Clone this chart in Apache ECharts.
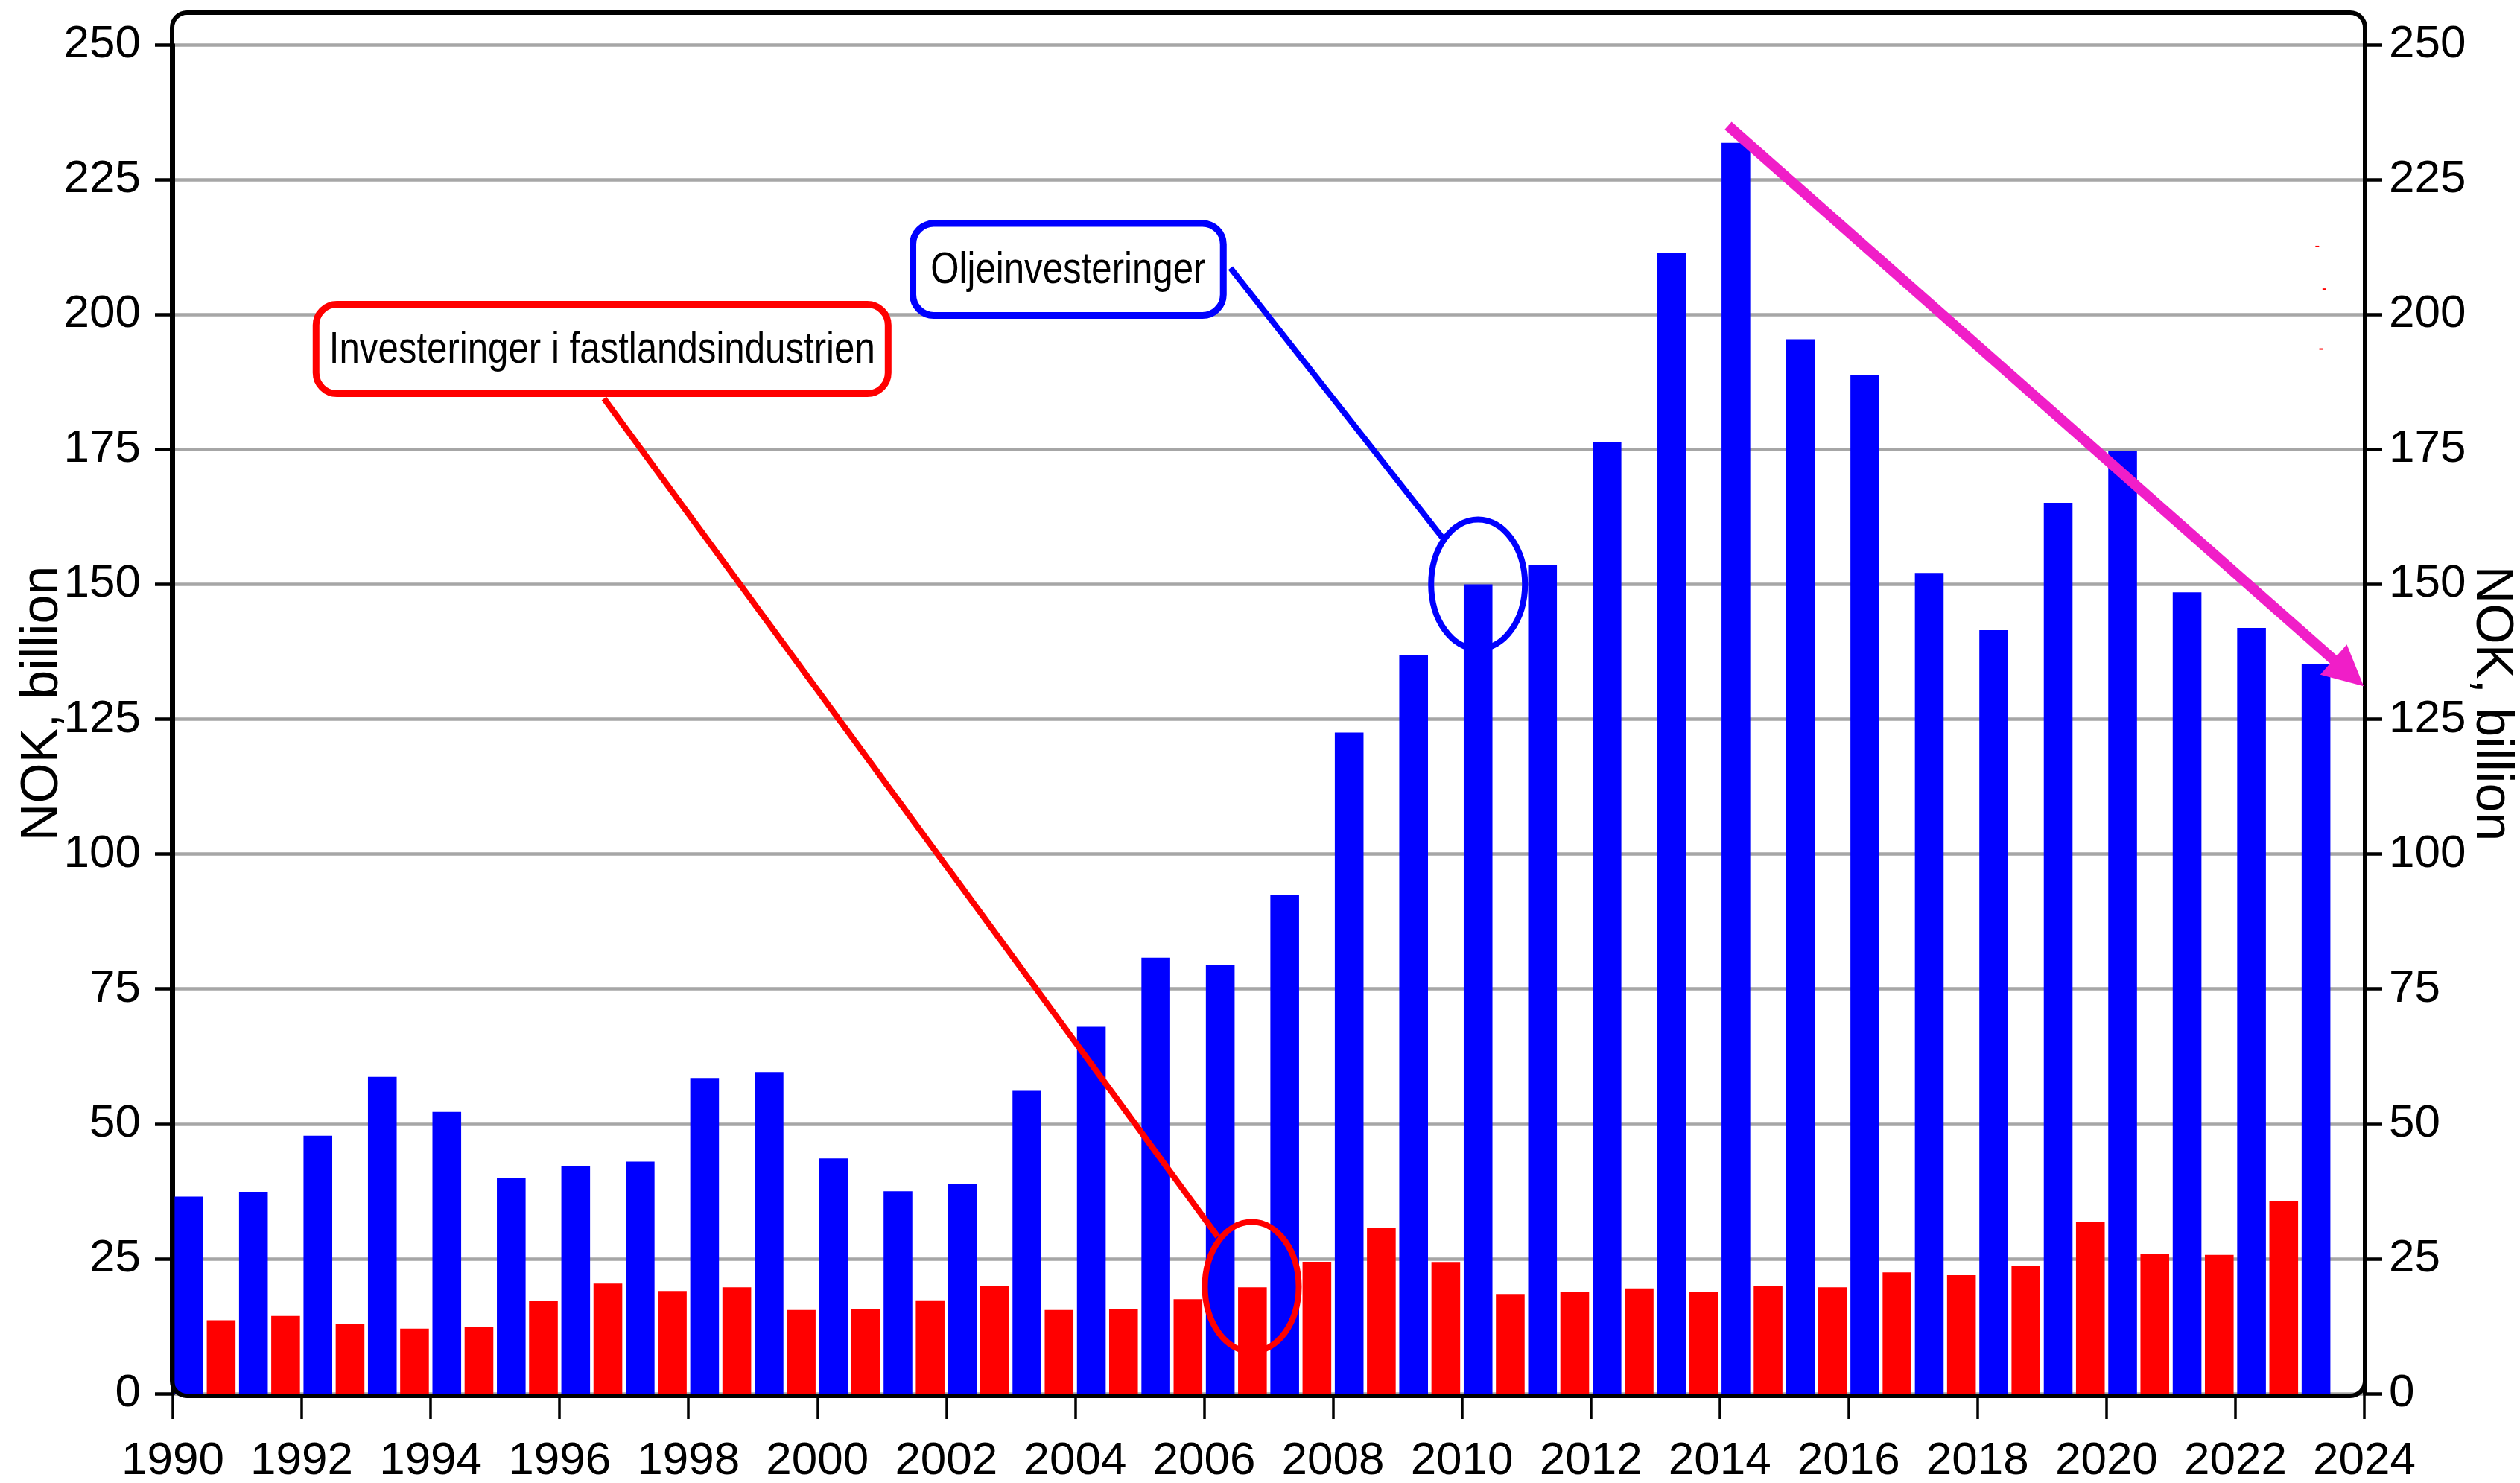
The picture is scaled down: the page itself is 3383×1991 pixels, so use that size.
<!DOCTYPE html>
<html><head><meta charset="utf-8">
<script src="https://cdn.jsdelivr.net/npm/echarts@6/dist/echarts.min.js"></script>
<style>html,body{margin:0;padding:0;background:#fff}#c{width:3383px;height:1991px}</style>
</head><body><div id="c"></div>
<script>
// ---- data ----
const years = [1990,1991,1992,1993,1994,1995,1996,1997,1998,1999,2000,2001,2002,2003,2004,2005,2006,2007,2008,2009,2010,2011,2012,2013,2014,2015,2016,2017,2018,2019,2020,2021,2022,2023];
const oilInvestment = [36.5,37.4,47.8,58.7,52.2,39.9,42.2,43.0,58.5,59.6,43.6,37.5,38.9,56.1,68.0,80.8,79.5,92.5,122.5,136.8,150.0,153.6,176.3,211.5,231.8,195.4,188.8,152.1,141.5,165.1,174.7,148.5,141.9,135.2];
const industryInvestment = [13.6,14.4,12.85,12.05,12.4,17.2,20.4,19.0,19.7,15.5,15.75,17.3,19.9,15.5,15.75,17.5,19.7,24.45,30.8,24.4,18.45,18.8,19.5,18.9,20.0,19.7,22.45,21.95,23.65,31.8,25.8,25.7,35.6,null];
const xRange = [1990, 2024];
const xInterval = 2;
const yRange = [0, 250];
const yInterval = 25;
const axisTitle = 'NOK, billion';
// annotations, in data coordinates [year, NOK bn]
const labelBoxes = [
  {text: 'Investeringer i fastlandsindustrien', color: '#ff0000', from: [1992.17, 202.5], to: [2001.15, 184.7]},
  {text: 'Oljeinvesteringer', color: '#0000ff', from: [2001.43, 217.5], to: [2006.35, 199.2]}
];
const leaderLines = [
  {color: '#ff0000', from: [1996.69, 184.4], to: [2006.21, 29.1]},
  {color: '#0000ff', from: [2006.41, 208.6], to: [2009.70, 158.6]}
];
const rings = [
  {color: '#ff0000', center: [2006.74, 19.8]},
  {color: '#0000ff', center: [2010.25, 150.0]}
];
const trendArrow = {color: '#f01ec8', from: [2014.13, 235.0], to: [2023.99, 131.1]};
const strayMarks = [[2023.27, 212.6], [2023.38, 204.7], [2023.33, 193.6]];

function hasFont(name){
  const c = document.createElement('canvas').getContext('2d');
  const t = 'abcdefghijklmnopqrstuvwxyz0123456789ABCDEFG';
  c.font = '72px monospace'; const w1 = c.measureText(t).width;
  c.font = '72px "' + name + '", monospace'; const w2 = c.measureText(t).width;
  return Math.abs(w1 - w2) > 0.5;
}
const narrow = hasFont('Liberation Sans Narrow') ? 'Liberation Sans Narrow' : (hasFont('Arial Narrow') ? 'Arial Narrow' : null);
const tickFont = narrow || 'Liberation Sans';
const tickSize = narrow ? 68 : 62;
const annFont = narrow || 'Liberation Sans';
const annScale = narrow ? 1 : 0.82;

const chart = echarts.init(document.getElementById('c'), null, {renderer: 'canvas'});
const labelStyle = {color: '#000', fontSize: tickSize, fontFamily: tickFont};
const tickStyle = {show: true, length: 24, lineStyle: {color: '#000', width: 4.5}};
chart.setOption({
  animation: false,
  backgroundColor: '#fff',
  grid: {left: 232, right: 209, top: 60, bottom: 120, containLabel: false, outerBoundsMode: 'none'},
  xAxis: [
    {type: 'category', data: years.map(String), show: false, boundaryGap: true},
    {type: 'value', min: xRange[0], max: xRange[1], interval: xInterval, position: 'bottom',
     axisLine: {show: false}, splitLine: {show: false},
     axisTick: {show: true, length: 34, lineStyle: {color: '#000', width: 3.5}},
     axisLabel: Object.assign({margin: 60, formatter: v => String(v)}, labelStyle)}
  ],
  yAxis: [
    {type: 'value', min: yRange[0], max: yRange[1], interval: yInterval, position: 'left',
     axisLine: {show: true, lineStyle: {color: '#000', width: 5}},
     axisTick: tickStyle,
     axisLabel: Object.assign({margin: 43}, labelStyle),
     splitLine: {show: true, lineStyle: {color: '#a6a6a6', width: 4.5}},
     name: axisTitle, nameLocation: 'middle', nameGap: 139, nameMoveOverlap: false,
     nameTextStyle: {fontSize: 70, fontFamily: 'Liberation Sans', color: '#000', padding: [0, 0, 0, 42]}},
    {type: 'value', min: yRange[0], max: yRange[1], interval: yInterval, position: 'right',
     axisLine: {show: true, lineStyle: {color: '#000', width: 5}},
     axisTick: tickStyle,
     axisLabel: Object.assign({margin: 33}, labelStyle),
     splitLine: {show: false},
     name: axisTitle, nameLocation: 'middle', nameGap: 135, nameRotate: -90, nameMoveOverlap: false,
     nameTextStyle: {fontSize: 70, fontFamily: 'Liberation Sans', color: '#000', padding: [0, 42, 0, 0]}}
  ],
  series: [
    {name: 'Oljeinvesteringer', type: 'bar', xAxisIndex: 0, yAxisIndex: 0, data: oilInvestment,
     itemStyle: {color: '#0000ff'}, barGap: '12%', barCategoryGap: '5.5%'},
    {name: 'Investeringer i fastlandsindustrien', type: 'bar', xAxisIndex: 0, yAxisIndex: 0, data: industryInvestment,
     itemStyle: {color: '#ff0000'}, barGap: '12%', barCategoryGap: '5.5%'}
  ]
});

const px = p => chart.convertToPixel({xAxisIndex: 1, yAxisIndex: 0}, p);
const g = [];
// plot frame (rounded rectangle around the plotting area)
const tl = px([xRange[0], yRange[1]]), br = px([xRange[1], yRange[0]]);
g.push({type: 'rect', z: 50, silent: true,
  shape: {x: tl[0] - 1, y: tl[1] - 43, width: br[0] - tl[0] + 2, height: br[1] - tl[1] + 46, r: 20},
  style: {fill: 'none', stroke: '#000', lineWidth: 6}});
// leader lines
leaderLines.forEach(l => {
  const a = px(l.from), b = px(l.to);
  g.push({type: 'line', z: 60, shape: {x1: a[0], y1: a[1], x2: b[0], y2: b[1]}, style: {stroke: l.color, lineWidth: 8}});
});
// rings
rings.forEach(r => {
  const c = px(r.center);
  g.push({type: 'ellipse', z: 61, shape: {cx: c[0], cy: c[1], rx: 63, ry: 87}, style: {fill: 'none', stroke: r.color, lineWidth: 8}});
});
// label boxes
labelBoxes.forEach(b => {
  const a = px(b.from), c = px(b.to), lw = 9;
  g.push({type: 'rect', z: 70, shape: {x: a[0] + lw/2, y: a[1] + lw/2, width: c[0] - a[0] - lw, height: c[1] - a[1] - lw, r: 28},
    style: {fill: '#fff', stroke: b.color, lineWidth: lw}});
  g.push({type: 'text', z: 71, x: (a[0] + c[0]) / 2, y: (a[1] + c[1]) / 2 + 2, scaleX: annScale,
    style: {text: b.text, fill: '#000', font: 'normal 60px "' + annFont + '"', align: 'center', verticalAlign: 'middle'}});
});
// trend arrow
{
  const a = px(trendArrow.from), b = px(trendArrow.to);
  const dx = b[0] - a[0], dy = b[1] - a[1], L = Math.hypot(dx, dy), ux = dx / L, uy = dy / L;
  const hl = 54, hw = 27;
  const bx = b[0] - ux * hl, by = b[1] - uy * hl;
  g.push({type: 'line', z: 80, shape: {x1: a[0], y1: a[1], x2: bx + ux * 4, y2: by + uy * 4}, style: {stroke: trendArrow.color, lineWidth: 14}});
  g.push({type: 'polygon', z: 81, shape: {points: [[b[0], b[1]], [bx - uy * hw, by + ux * hw], [bx + uy * hw, by - ux * hw]]}, style: {fill: trendArrow.color}});
}
strayMarks.forEach(m => {
  const p = px(m);
  g.push({type: 'rect', z: 55, shape: {x: p[0] - 2.5, y: p[1] - 1, width: 5, height: 2}, style: {fill: '#ff0000'}});
});
chart.setOption({graphic: g});
</script></body></html>
